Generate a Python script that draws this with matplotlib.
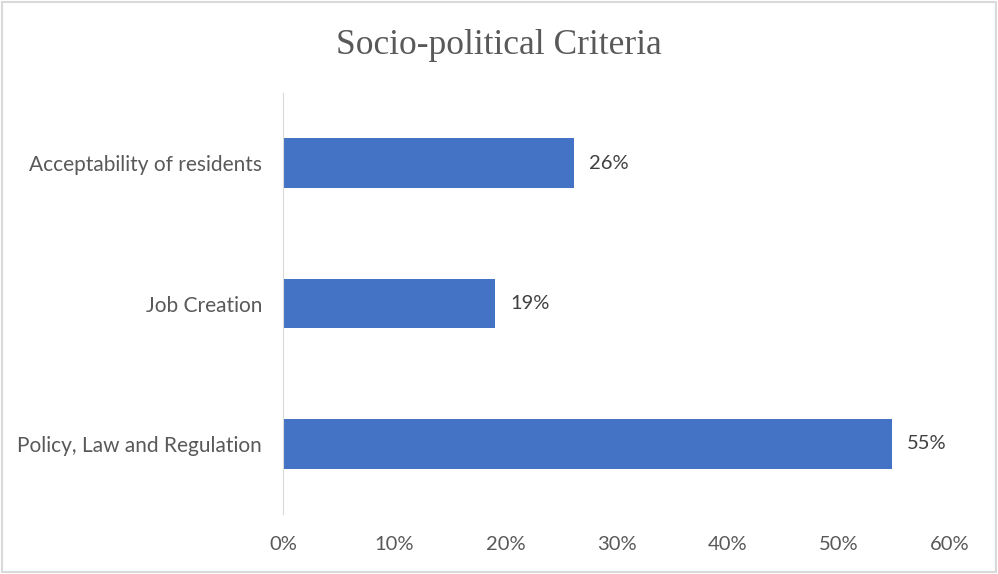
import matplotlib.pyplot as plt
from matplotlib.patches import Rectangle

categories = ["Policy, Law and Regulation", "Job Creation", "Acceptability of residents"]
values = [0.548, 0.191, 0.262]
xticks = [0, 0.1, 0.2, 0.3, 0.4, 0.5, 0.6]
xtick_labels = ["0%", "10%", "20%", "30%", "40%", "50%", "60%"]

fig = plt.figure(figsize=(9.98, 5.74), dpi=100)
ax = fig.add_axes([0.2836, 0.1045, 0.9519 - 0.2836, 0.838 - 0.1045])

ax.barh(range(len(categories)), values, height=0.355, color="#4472C4")
for i, v in enumerate(values):
    ax.text(v + 0.0135, i, "{:.0f}%".format(v * 100), va="center", ha="left",
            fontsize=14.5, color="#404040", family="Lato")

ax.set_xlim(0, 0.6)
ax.set_ylim(-0.5, 2.5)
ax.set_xticks(xticks)
ax.set_xticklabels(xtick_labels, family="Lato", fontsize=14.5, color="#595959")
ax.set_yticks(range(len(categories)))
ax.set_yticklabels(categories, family="Lato", fontsize=15, color="#595959")
ax.tick_params(length=0)
ax.tick_params(axis="x", pad=16)
ax.tick_params(axis="y", pad=15)
for s in ["top", "right", "bottom"]:
    ax.spines[s].set_visible(False)
ax.spines["left"].set_color("#D9D9D9")

fig.text(0.5, 0.921, "Socio-political Criteria", ha="center", va="center",
         fontsize=25.5, color="#595959", family="Liberation Serif")

fig.patches.append(Rectangle((0.002, 0.003), 0.996, 0.994, transform=fig.transFigure,
                             fill=False, edgecolor="#D9D9D9", linewidth=1.5))

plt.savefig("out.png", dpi=100)
